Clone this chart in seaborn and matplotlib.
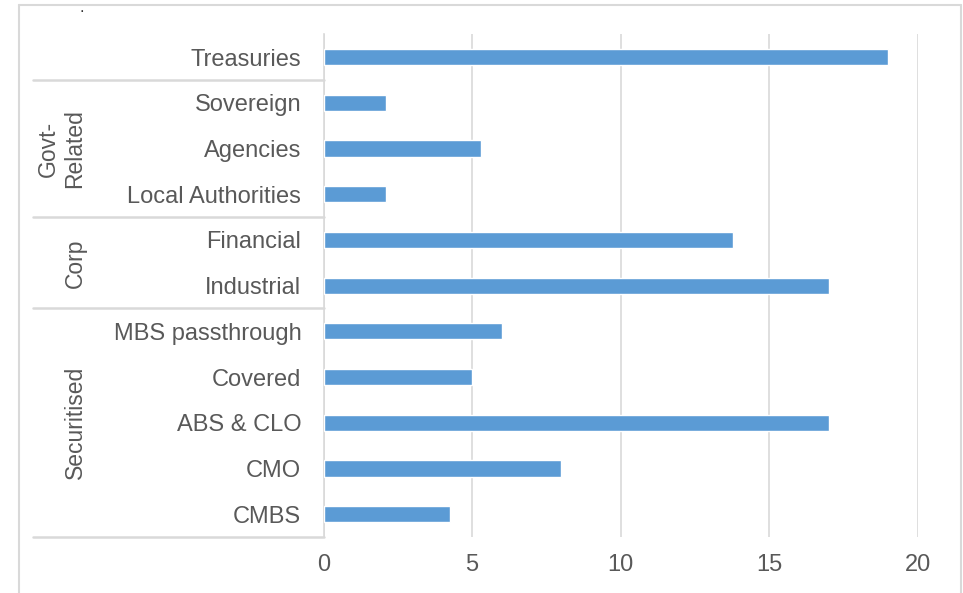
import matplotlib
matplotlib.use("Agg")
import matplotlib.pyplot as plt
import matplotlib.transforms as mtransforms
from matplotlib.lines import Line2D
import seaborn as sns
import pandas as pd

# Sector breakdown
categories = ["Treasuries", "Sovereign", "Agencies", "Local Authorities",
              "Financial", "Industrial", "MBS passthrough", "Covered",
              "ABS & CLO", "CMO", "CMBS"]
values = [19.0, 2.1, 5.3, 2.1, 13.8, 17.0, 6.0, 5.0, 17.0, 8.0, 4.25]

# Group name, first row index, last row index
groups = [("Govt-\nRelated", 1, 3), ("Corp", 4, 5), ("Securitised", 6, 10)]
x_ticks = [0, 5, 10, 15, 20]

BAR = "#5B9BD5"
GRID = "#D9D9D9"
TEXT = "#595959"

sns.set_theme(style="white")
plt.rcParams["font.family"] = ["Liberation Sans", "DejaVu Sans"]

W, H = 963, 593
fig = plt.figure(figsize=(W / 100, H / 100), dpi=100)
ax = fig.add_axes([323.5 / W, 1 - 537 / H, (917.7 - 323.5) / W, (537 - 34.3) / H])

df = pd.DataFrame({"category": categories, "value": values})
sns.barplot(data=df, y="category", x="value", orient="h", color=BAR,
            width=0.355, saturation=1, ax=ax, zorder=3)

ax.set_xlim(0, 20)
ax.set_ylim(len(categories) - 0.5, -0.5)
ax.set_xticks(x_ticks)
ax.set_xticklabels([str(t) for t in x_ticks])
ax.set_xlabel("")
ax.set_ylabel("")
ax.xaxis.grid(True, color=GRID, linewidth=1.2, zorder=0)
ax.yaxis.grid(False)
for side in ["top", "right", "bottom"]:
    ax.spines[side].set_visible(False)
ax.spines["left"].set_color(GRID)
ax.spines["left"].set_linewidth(1.2)
ax.tick_params(axis="x", length=0, pad=12, labelsize=17, labelcolor=TEXT)
ax.tick_params(axis="y", length=0, pad=16, labelsize=17, labelcolor=TEXT)

# Group separators and labels to the left of the category axis
blend = mtransforms.blended_transform_factory(fig.transFigure, ax.transData)
for yb in [0.5, 3.5, 5.5, 10.5]:
    ax.add_line(Line2D([33 / W, 323.5 / W], [yb, yb], transform=blend,
                       color=GRID, linewidth=1.8, clip_on=False))
for name, a, b in groups:
    xc = 61.5 if "\n" in name else 75
    ax.text(xc / W, (a + b) / 2, name, transform=blend, rotation=90,
            ha="center", va="center", multialignment="center",
            fontsize=16.5, color=TEXT, linespacing=1.15)

# Outer chart frame
for xs, ys in [([19 / W, 19 / W], [0, 1 - 5 / H]),
               ([19 / W, 961 / W], [1 - 5 / H, 1 - 5 / H]),
               ([961 / W, 961 / W], [1 - 5 / H, 0])]:
    fig.add_artist(Line2D(xs, ys, transform=fig.transFigure,
                          color=GRID, linewidth=1.5))
fig.text(82 / W, 1 - 15 / H, ".", fontsize=12, color="#333333",
         ha="center", va="bottom")

fig.savefig("out.png", dpi=100)
